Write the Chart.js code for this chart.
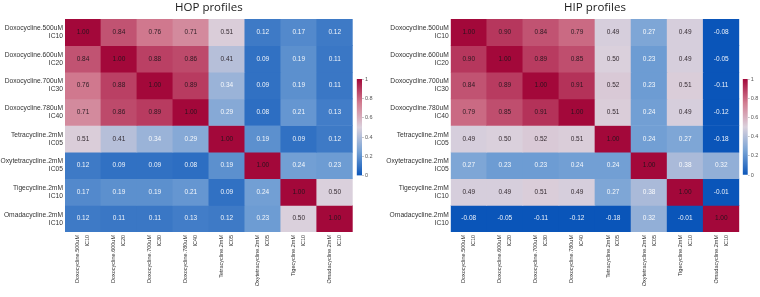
<!DOCTYPE html>
<html>
<head>
<meta charset="utf-8">
<script src="https://cdn.jsdelivr.net/npm/chart.js@4.4.1/dist/chart.umd.min.js"></script>
<style>
    html, body { margin: 0; padding: 0; background: #ffffff; }
    .panel { position: absolute; }
</style>
</head>
<body>
<div class="panel" style="left:0;top:0;"><canvas id="hopChart" width="380" height="297"></canvas></div>
<div class="panel" style="left:380px;top:0;"><canvas id="hipChart" width="380" height="297"></canvas></div>
<div class="panel" style="left:340px;top:60px;"><canvas id="hopBar" width="40" height="130"></canvas></div>
<div class="panel" style="left:725px;top:60px;"><canvas id="hipBar" width="35" height="130"></canvas></div>
<script>
// profile names, used for both rows and columns
const profileLabels = [
    ['Doxocycline.500uM', 'IC10'],
    ['Doxocycline.600uM', 'IC20'],
    ['Doxocycline.700uM', 'IC30'],
    ['Doxocycline.780uM', 'IC40'],
    ['Tetracycline.2mM', 'IC05'],
    ['Oxytetracycline.2mM', 'IC05'],
    ['Tigecycline.2mM', 'IC10'],
    ['Omadacycline.2mM', 'IC10']
];

const hopValues = [
    [1.00, 0.84, 0.76, 0.71, 0.51, 0.12, 0.17, 0.12],
    [0.84, 1.00, 0.88, 0.86, 0.41, 0.09, 0.19, 0.11],
    [0.76, 0.88, 1.00, 0.89, 0.34, 0.09, 0.19, 0.11],
    [0.71, 0.86, 0.89, 1.00, 0.29, 0.08, 0.21, 0.13],
    [0.51, 0.41, 0.34, 0.29, 1.00, 0.19, 0.09, 0.12],
    [0.12, 0.09, 0.09, 0.08, 0.19, 1.00, 0.24, 0.23],
    [0.17, 0.19, 0.19, 0.21, 0.09, 0.24, 1.00, 0.50],
    [0.12, 0.11, 0.11, 0.13, 0.12, 0.23, 0.50, 1.00]
];

const hipValues = [
    [1.00, 0.90, 0.84, 0.79, 0.49, 0.27, 0.49, -0.08],
    [0.90, 1.00, 0.89, 0.85, 0.50, 0.23, 0.49, -0.05],
    [0.84, 0.89, 1.00, 0.91, 0.52, 0.23, 0.51, -0.11],
    [0.79, 0.85, 0.91, 1.00, 0.51, 0.24, 0.49, -0.12],
    [0.49, 0.50, 0.52, 0.51, 1.00, 0.24, 0.27, -0.18],
    [0.27, 0.23, 0.23, 0.24, 0.24, 1.00, 0.38, 0.32],
    [0.49, 0.49, 0.51, 0.49, 0.27, 0.38, 1.00, -0.01],
    [-0.08, -0.05, -0.11, -0.12, -0.18, 0.32, -0.01, 1.00]
];

const colorbarTicks = [0, 0.2, 0.4, 0.6, 0.8, 1];

// blue -> grey -> red scale, clamped to [0, 1]
const colorStops = [
    [0.00, [10, 85, 185]],
    [0.25, [118, 162, 213]],
    [0.50, [218, 208, 220]],
    [0.75, [210, 125, 145]],
    [1.00, [163, 8, 58]]
];

function cellColor(v) {
    const t = Math.max(0, Math.min(1, v));
    for (let i = 1; i < colorStops.length; i++) {
        const [p1, c1] = colorStops[i];
        const [p0, c0] = colorStops[i - 1];
        if (t <= p1) {
            const f = (t - p0) / (p1 - p0);
            const c = c0.map((ch, k) => Math.round(ch + (c1[k] - ch) * f));
            return 'rgb(' + c.join(',') + ')';
        }
    }
    return 'rgb(' + colorStops[colorStops.length - 1][1].join(',') + ')';
}

const fontFamily = "'Liberation Sans', Arial, sans-serif";

const cellTextPlugin = {
    id: 'cellText',
    afterDatasetsDraw(chart) {
        const ctx = chart.ctx;
        ctx.save();
        ctx.font = '6.5px ' + fontFamily;
        ctx.textAlign = 'center';
        ctx.textBaseline = 'middle';
        chart.data.datasets.forEach(function(dataset, i) {
            chart.getDatasetMeta(i).data.forEach(function(bar, j) {
                const v = dataset.values[j];
                ctx.fillStyle = v >= 0.4 ? 'rgba(30,20,25,0.9)' : 'rgba(255,255,255,0.92)';
                ctx.fillText(v.toFixed(2), bar.x, (bar.y + bar.base) / 2);
            });
        });
        ctx.restore();
    }
};

function makeHeatmap(canvasId, titleText, values, axisWidth, padRight) {
    const n = values.length;
    const datasets = values.map(function(row, i) {
        return {
            data: row.map(function() { return [n - i - 1, n - i]; }),
            values: row,
            backgroundColor: row.map(cellColor),
            borderWidth: 0,
            grouped: false,
            barPercentage: 1,
            categoryPercentage: 1
        };
    });

    return new Chart(document.getElementById(canvasId), {
        type: 'bar',
        data: { labels: profileLabels, datasets: datasets },
        options: {
            responsive: false,
            animation: false,
            layout: { padding: { left: 0, right: padRight, top: 0, bottom: 0 } },
            plugins: {
                legend: { display: false },
                tooltip: { enabled: false },
                title: {
                    display: true,
                    text: titleText,
                    fullSize: false,
                    color: '#1a1a1a',
                    font: { family: "'Open Sans', sans-serif", size: 11.5, weight: 'normal', lineHeight: 1.2 },
                    padding: { top: 1, bottom: 4.2 }
                }
            },
            scales: {
                x: {
                    grid: { display: false, drawTicks: false },
                    border: { display: false },
                    ticks: {
                        autoSkip: false,
                        minRotation: 90,
                        maxRotation: 90,
                        padding: 3,
                        labelOffset: -5,
                        color: '#333',
                        font: { family: fontFamily, size: 5.5, lineHeight: 1.8 }
                    },
                    afterFit: function(scale) { scale.height = 65; }
                },
                y: {
                    type: 'linear',
                    min: 0,
                    max: n,
                    grid: { display: false, drawTicks: false },
                    border: { display: false },
                    afterBuildTicks: function(scale) {
                        scale.ticks = values.map(function(_, i) { return { value: i + 0.5 }; });
                    },
                    ticks: {
                        autoSkip: false,
                        padding: 2,
                        color: '#333',
                        font: { family: fontFamily, size: 6.7, lineHeight: 1.2 },
                        callback: function(value, index) { return profileLabels[n - 1 - index]; }
                    },
                    afterFit: function(scale) { scale.width = axisWidth; }
                }
            }
        },
        plugins: [cellTextPlugin]
    });
}

function makeColorbar(canvasId, padding) {
    return new Chart(document.getElementById(canvasId), {
        type: 'bar',
        data: {
            labels: [''],
            datasets: [{
                data: [[0, 1]],
                borderWidth: 0,
                barPercentage: 1,
                categoryPercentage: 1,
                backgroundColor: function(context) {
                    const area = context.chart.chartArea;
                    if (!area) return null;
                    const g = context.chart.ctx.createLinearGradient(0, area.bottom, 0, area.top);
                    colorStops.forEach(function(s) { g.addColorStop(s[0], 'rgb(' + s[1].join(',') + ')'); });
                    return g;
                }
            }]
        },
        options: {
            responsive: false,
            animation: false,
            layout: { padding: padding },
            plugins: { legend: { display: false }, tooltip: { enabled: false } },
            scales: {
                x: { display: false },
                y: {
                    position: 'right',
                    min: 0,
                    max: 1,
                    border: { display: false },
                    grid: { drawOnChartArea: false, drawTicks: true, tickLength: 2, color: '#c8c8c8' },
                    afterBuildTicks: function(scale) {
                        scale.ticks = colorbarTicks.map(function(v) { return { value: v }; });
                    },
                    ticks: {
                        padding: 1,
                        color: '#555',
                        font: { family: fontFamily, size: 5.5 },
                        callback: function(value) { return String(value); }
                    },
                    afterFit: function(scale) { scale.width = 12; }
                }
            }
        }
    });
}

makeHeatmap('hopChart', 'HOP profiles', hopValues, 65, 27.3);
makeHeatmap('hipChart', 'HIP profiles', hipValues, 70.7, 20.7);
makeColorbar('hopBar', { left: 16.7, right: 6, top: 19, bottom: 14.3 });
makeColorbar('hipBar', { left: 17.7, right: 0.3, top: 19, bottom: 15 });
</script>
</body>
</html>
